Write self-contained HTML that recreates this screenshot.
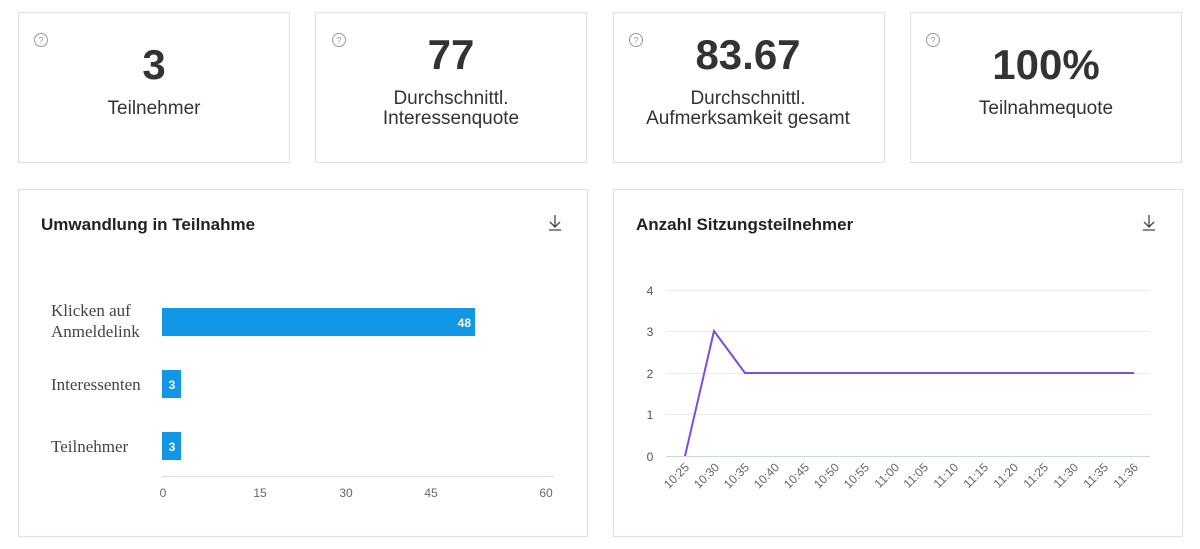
<!DOCTYPE html>
<html><head><meta charset="utf-8"><style>
html,body{margin:0;padding:0;background:#fff;width:1200px;height:549px;overflow:hidden}
svg{display:block}
.s{font-family:"Liberation Sans",sans-serif}
</style></head><body>
<svg width="1200" height="549" xmlns="http://www.w3.org/2000/svg" class="s">
<g fill="#fff" stroke="#e3e3e3" stroke-width="1.2">
<rect x="18.5" y="12.5" width="271" height="150"/>
<rect x="315.5" y="12.5" width="271" height="150"/>
<rect x="613.5" y="12.5" width="271" height="150"/>
<rect x="910.5" y="12.5" width="271" height="150"/>
<rect x="18.5" y="189.5" width="569" height="347"/>
<rect x="613.5" y="189.5" width="569" height="347"/>
</g>
<g fill="none" stroke="#999" stroke-width="1">
<circle cx="41" cy="40" r="6.5"/><circle cx="339" cy="40" r="6.5"/><circle cx="636" cy="40" r="6.5"/><circle cx="933" cy="40" r="6.5"/>
</g>
<g fill="#999" font-size="9" text-anchor="middle">
<text x="41" y="43.5">?</text><text x="339" y="43.5">?</text><text x="636" y="43.5">?</text><text x="933" y="43.5">?</text>
</g>
<g fill="#333" font-weight="bold" font-size="42" text-anchor="middle">
<text x="154" y="79">3</text><text x="451" y="69">77</text><text x="748" y="69">83.67</text><text x="1046" y="79">100%</text>
</g>
<g fill="#333" font-size="19" text-anchor="middle">
<text x="154" y="114">Teilnehmer</text>
<text x="451" y="104">Durchschnittl.</text><text x="451" y="124">Interessenquote</text>
<text x="748" y="104">Durchschnittl.</text><text x="748" y="124">Aufmerksamkeit gesamt</text>
<text x="1046" y="114">Teilnahmequote</text>
</g>
<g fill="#222" font-weight="bold" font-size="17">
<text x="41" y="230">Umwandlung in Teilnahme</text>
<text x="636" y="230">Anzahl Sitzungsteilnehmer</text>
</g>
<g stroke="#444" stroke-width="1.3" fill="none">
<path d="M555 215v12M550 222l5 5 5-5M549 230h12"/>
<path d="M1149 215v12M1144 222l5 5 5-5M1143 230h12"/>
</g>
<!-- bar chart -->
<g font-family="'Liberation Serif',serif" font-size="17" fill="#444">
<text x="51" y="316">Klicken auf</text><text x="51" y="337">Anmeldelink</text>
<text x="51" y="390">Interessenten</text>
<text x="51" y="452">Teilnehmer</text>
</g>
<g fill="#1296e6">
<rect x="162" y="308" width="313" height="28"/>
<rect x="162" y="370" width="19" height="28"/>
<rect x="162" y="432" width="19" height="28"/>
</g>
<g fill="#fff" font-weight="bold" font-size="12">
<text x="471" y="327" text-anchor="end">48</text>
<text x="172" y="389" text-anchor="middle">3</text>
<text x="172" y="451" text-anchor="middle">3</text>
</g>
<line x1="162" y1="476.5" x2="554" y2="476.5" stroke="#dde3ea" stroke-width="1.5"/>
<g fill="#666" font-size="12" text-anchor="middle">
<text x="163" y="497">0</text><text x="260" y="497">15</text><text x="346" y="497">30</text><text x="431" y="497">45</text><text x="546" y="497">60</text>
</g>
<!-- line chart -->
<g stroke="#e8ebf0" stroke-width="1">
<line x1="666" y1="290.5" x2="1150" y2="290.5"/>
<line x1="666" y1="331.5" x2="1150" y2="331.5"/>
<line x1="666" y1="373.5" x2="1150" y2="373.5"/>
<line x1="666" y1="414.5" x2="1150" y2="414.5"/>
</g>
<line x1="666" y1="456.5" x2="1150" y2="456.5" stroke="#cfd6e6" stroke-width="1"/>
<g fill="#555" font-size="12" text-anchor="middle">
<text x="650" y="295">4</text><text x="650" y="336">3</text><text x="650" y="378">2</text><text x="650" y="419">1</text><text x="650" y="461">0</text>
</g>
<polyline points="685,456 714,331 745,373 1134,373" fill="none" stroke="#7b4ee0" stroke-width="2"/>
<g fill="#666" font-size="12" text-anchor="end">
<text transform="translate(690,468) rotate(-45)">10:25</text>
<text transform="translate(720,468) rotate(-45)">10:30</text>
<text transform="translate(750,468) rotate(-45)">10:35</text>
<text transform="translate(780,468) rotate(-45)">10:40</text>
<text transform="translate(810,468) rotate(-45)">10:45</text>
<text transform="translate(840,468) rotate(-45)">10:50</text>
<text transform="translate(870,468) rotate(-45)">10:55</text>
<text transform="translate(900,468) rotate(-45)">11:00</text>
<text transform="translate(929,468) rotate(-45)">11:05</text>
<text transform="translate(959,468) rotate(-45)">11:10</text>
<text transform="translate(989,468) rotate(-45)">11:15</text>
<text transform="translate(1019,468) rotate(-45)">11:20</text>
<text transform="translate(1049,468) rotate(-45)">11:25</text>
<text transform="translate(1079,468) rotate(-45)">11:30</text>
<text transform="translate(1109,468) rotate(-45)">11:35</text>
<text transform="translate(1139,468) rotate(-45)">11:36</text>
</g>
</svg>
</body></html>
